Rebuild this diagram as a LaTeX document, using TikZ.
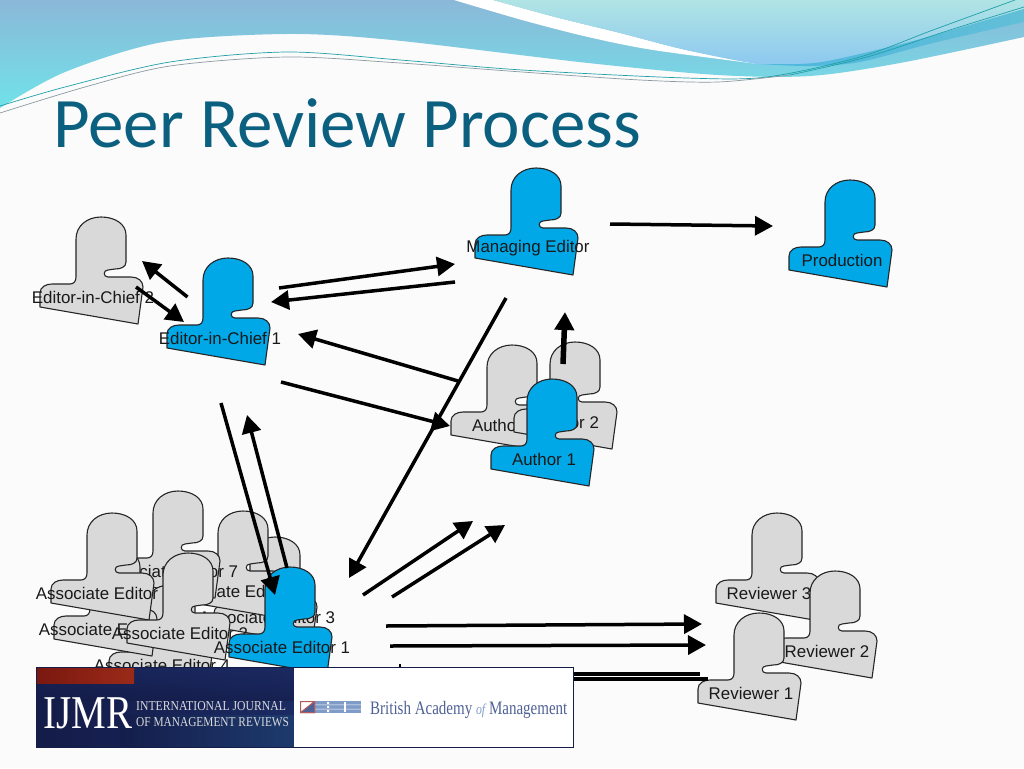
\documentclass[tikz,border=0pt]{standalone}
\usepackage{fontspec}
\setmainfont{Liberation Sans}
\newfontfamily\titlefont{Carlito}
\newfontfamily\logofont{Liberation Serif}
\usetikzlibrary{arrows.meta}
\definecolor{bgc}{HTML}{FBFBFB}
\definecolor{peopleblue}{HTML}{00A8E8}
\definecolor{peoplegrey}{HTML}{D9D9D9}
\definecolor{titlec}{HTML}{0B6080}
\definecolor{bamblue}{HTML}{4F6296}
\definecolor{bamstripe}{HTML}{7F9CC8}
\definecolor{wavetop}{HTML}{8BB8D8}
\definecolor{wavebot}{HTML}{70E2EA}
\definecolor{lighttop}{HTML}{B0E4E4}
\definecolor{lightbot}{HTML}{8CC8F0}
\definecolor{bandc}{HTML}{4DB6DE}
\definecolor{bandr}{HTML}{62BFD8}
\definecolor{linet}{HTML}{1FA0A8}
\definecolor{lineg}{HTML}{8A9AA0}
\definecolor{navy}{HTML}{1B2A62}
\definecolor{navyd}{HTML}{141C48}
\definecolor{navyb}{HTML}{1F4A78}
\definecolor{redstrip}{HTML}{7A1810}
\definecolor{redstripb}{HTML}{9A2A18}
\tikzset{
  personbody/.style={draw=black!85,line width=1.1pt,line join=round},
  personlabel/.style={inner sep=0pt,text=black!90,font=\fontsize{16.9}{18}\selectfont},
  arrowline/.style={draw=black,line width=3.5pt,-{Triangle[length=18pt,width=19pt]}},
  plainline/.style={draw=black,line width=3.2pt},
  swishline/.style={line width=0.7pt}
}
\newcommand{\person}[5]{%
  \begin{scope}[shift={(#2,#3)}]
    \draw[personbody,fill=#4] (0,0) .. controls (14,0) and (25,7) .. (25,18) -- (25,45)
      .. controls (25,50) and (20,52) .. (14,52) -- (7,53) .. controls (2,53) and (2,60) .. (7,60)
      -- (30,60) .. controls (37,60) and (42,64) .. (42,70) -- (37,107) -- (-61,90) -- (-61,76)
      .. controls (-61,70) and (-55,67) .. (-49,67) -- (-31,67) .. controls (-27,67) and (-25,64) .. (-25,60)
      -- (-25,22) .. controls (-25,9) and (-14,0) .. (0,0) -- cycle;
    \node[personlabel] (#1) at (-8,80.5) {#5};
  \end{scope}}
\begin{document}
\begin{tikzpicture}[x=1pt,y=-1pt]
\useasboundingbox (0,0) rectangle (1024,768);
\clip (0,0) rectangle (1024,768);
\fill[bgc] (0,0) rectangle (1024,768);
% header waves
\shade[top color=wavetop,bottom color=wavebot]
  (0,0) -- plot[smooth] coordinates {(0,108) (65,72) (163,42) (287,34) (392,40) (588,63) (718,75) (810,76) (900,63) (1024,37)} -- (1024,0) -- cycle;
\fill[white] plot[smooth] coordinates {(454,0) (522,20) (588,37) (653,50) (758,64)}
  -- plot[smooth] coordinates {(758,64) (686,50) (620,33) (555,17) (493,0)} -- cycle;
\shade[top color=lighttop,bottom color=lightbot]
  plot[smooth] coordinates {(493,0) (555,17) (620,33) (686,50) (758,64) (800,64) (833,60) (917,40) (1024,9)} -- (1024,0) -- cycle;
\shade[left color=bandc,right color=bandr]
  plot[smooth] coordinates {(760,64) (800,64) (833,60) (917,40) (1024,9)}
  -- plot[smooth] coordinates {(1024,22) (933,43) (860,62) (810,66) (760,64)} -- cycle;
\draw[swishline,linet] plot[smooth] coordinates {(0,106) (65,87) (170,62) (287,52) (400,60) (522,70) (686,78) (767,77) (860,57) (933,30) (1015,0)};
\draw[swishline,lineg] plot[smooth] coordinates {(0,113) (85,87) (170,66) (287,57) (400,63) (522,72) (640,80) (718,82) (790,75)};
\draw[swishline,linet] plot[smooth] coordinates {(790,75) (867,57) (950,30) (1024,7)};
% title
\node[anchor=base west,inner sep=0pt,text=titlec,font=\titlefont\fontsize{71}{80}\selectfont] (title) at (53,147) {Peer Review Process};
% people
\person{eic2}{101}{217}{peoplegrey}{Editor-in-Chief 2}
\person{eic1}{228}{258}{peopleblue}{Editor-in-Chief 1}
\person{me}{536}{168}{peopleblue}{Managing Editor}
\person{prod}{850}{180}{peopleblue}{Production}
\person{au3}{512}{345}{peoplegrey}{Author 3}
\person{au2}{575}{342}{peoplegrey}{Author 2}
\person{au1}{552}{379}{peopleblue}{Author 1}
\person{rev3}{777}{513}{peoplegrey}{Reviewer 3}
\person{rev2}{835}{571}{peoplegrey}{Reviewer 2}
\person{rev1}{759}{613}{peoplegrey}{Reviewer 1}
\person{ae3}{275}{537}{peoplegrey}{Associate Editor 3}
\person{ae6}{243}{511}{peoplegrey}{Associate Editor 6}
\person{ae7}{178}{491}{peoplegrey}{Associate Editor 7}
\person{ae4}{170}{585}{peoplegrey}{Associate Editor 4}
\person{ae5}{115}{549}{peoplegrey}{Associate Editor 5}
\person{ae8}{112}{513}{peoplegrey}{Associate Editor 8}
\person{ae2}{188}{553}{peoplegrey}{Associate Editor 2}
\person{ae1}{290}{567}{peopleblue}{Associate Editor 1}
% connector ends
\coordinate (a1s) at (187.5,297); \coordinate (a1e) at (142,261);
\coordinate (a2s) at (136,287);   \coordinate (a2e) at (184,322);
\coordinate (a3s) at (279,288);   \coordinate (a3e) at (455,264);
\coordinate (a4s) at (455,282);   \coordinate (a4e) at (271,302);
\coordinate (a5s) at (610,224);   \coordinate (a5e) at (773,226);
\coordinate (a6s) at (458,381);   \coordinate (a6e) at (298,334);
\coordinate (a7s) at (281,382);   \coordinate (a7e) at (450,426);
\coordinate (a8s) at (506,298);   \coordinate (a8e) at (349,578);
\coordinate (a9s) at (563,364);   \coordinate (a9e) at (565,312);
\coordinate (a10s) at (221,403);  \coordinate (a10e) at (275,595);
\coordinate (a11s) at (287,568);  \coordinate (a11e) at (247,415);
\coordinate (a12s) at (363,595);  \coordinate (a12e) at (473,521);
\coordinate (a13s) at (392,597);  \coordinate (a13e) at (505,525);
\coordinate (a14s) at (386,626);  \coordinate (a14e) at (702,624);
\coordinate (a15s) at (390,646);  \coordinate (a15e) at (706,645);
\coordinate (l1s) at (400,674);   \coordinate (l1e) at (700,674);
\coordinate (l2s) at (400,679);   \coordinate (l2e) at (708,679);
\coordinate (m1s) at (400,664);   \coordinate (m1e) at (400,672);
% connectors
\draw[arrowline] (a1s) -- (a1e);
\draw[arrowline] (a2s) -- (a2e);
\draw[arrowline] (a3s) -- (a3e);
\draw[arrowline] (a4s) -- (a4e);
\draw[arrowline] (a5s) -- (a5e);
\draw[arrowline] (a6s) -- (a6e);
\draw[arrowline] (a7s) -- (a7e);
\draw[arrowline] (a8s) -- (a8e);
\draw[arrowline,line width=5.5pt] (a9s) -- (a9e);
\draw[arrowline] (a10s) -- (a10e);
\draw[arrowline] (a11s) -- (a11e);
\draw[arrowline] (a12s) -- (a12e);
\draw[arrowline] (a13s) -- (a13e);
\draw[arrowline] (a14s) -- (a14e);
\draw[arrowline] (a15s) -- (a15e);
\draw[plainline] (l1s) -- (l1e);
\draw[plainline] (l2s) -- (l2e);
\draw[plainline,line width=1.5pt] (m1s) -- (m1e);
% journal banner
\shade[left color=navyd,right color=navy] (36,667) rectangle (294,747);
\shade[top color=navy,bottom color=navyd,fill opacity=0.6] (36,667) rectangle (294,700);
\shade[left color=navyd,right color=navyb,fill opacity=0.5] (120,715) rectangle (294,747);
\shade[left color=redstrip,right color=redstripb] (36,667) rectangle (134,683);
\fill[white] (294,667) rectangle (573,747);
\draw[navyd,line width=1pt] (36,667) rectangle (573,747);
\node[anchor=base west,inner sep=0pt,text=white,font=\logofont\fontsize{47}{50}\selectfont,xscale=0.83] (ijmr) at (43,728) {IJMR};
\node[anchor=base west,inner sep=0pt,text=black!15!white,font=\logofont\fontsize{13.6}{15}\selectfont,xscale=0.86] (ijmr1) at (136,710) {INTERNATIONAL JOURNAL};
\node[anchor=base west,inner sep=0pt,text=black!15!white,font=\logofont\fontsize{13.6}{15}\selectfont,xscale=0.836] (ijmr2) at (136,726) {OF MANAGEMENT REVIEWS};
% BAM logo
\fill[bamstripe] (315,701) rectangle (361,713);
\fill[white] (315,704.6) rectangle (361,705.2) (315,708.8) rectangle (361,709.4);
\fill[white] (327,702) rectangle (329,704) (327,706) rectangle (329,708) (327,710) rectangle (329,712);
\fill[white] (344,702) rectangle (346,712);
\fill[bamblue] (300,713) -- (315,701) -- (315,713) -- cycle;
\draw[red!55!black!65!white,line width=1pt] (300.5,701.5) rectangle (314.5,712.5) (300.5,712.5) -- (314.5,701.5);
\node[anchor=base west,inner sep=0pt,text=bamblue,font=\logofont\fontsize{19}{20}\selectfont,xscale=0.79] (bam) at (370,714) {British Academy {\itshape\color{bamstripe}\fontsize{15}{16}\selectfont of} Management};
\end{tikzpicture}
\end{document}
